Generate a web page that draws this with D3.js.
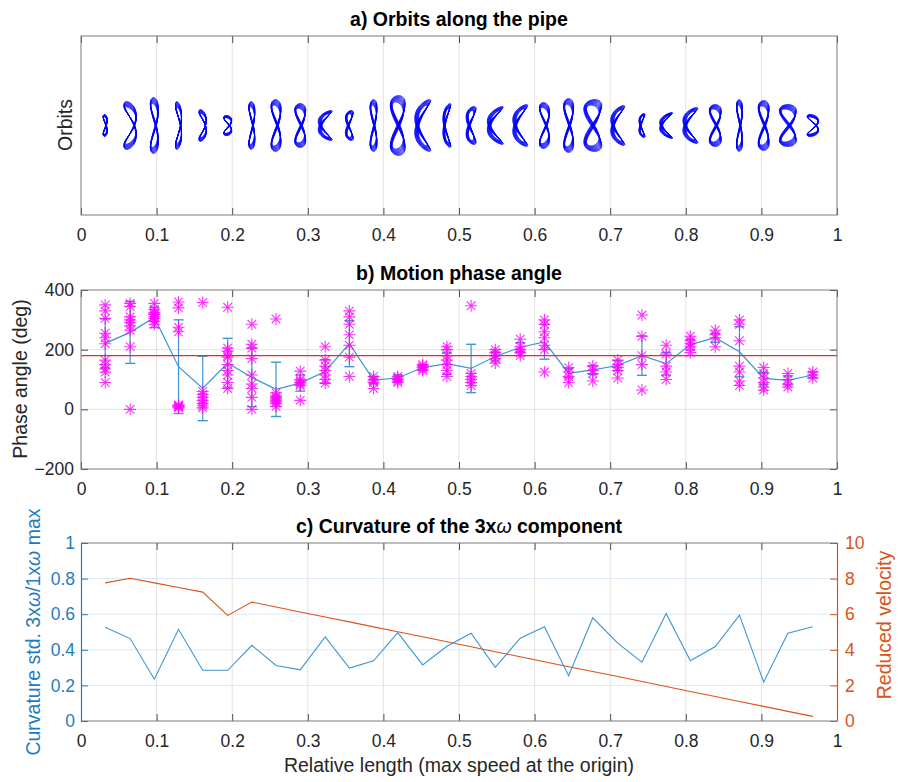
<!DOCTYPE html>
<html>
<head>
<meta charset="utf-8">
<script src="https://cdn.jsdelivr.net/npm/d3@7"></script>
<style>
  body { margin: 0; background: #fff; }
</style>
</head>
<body>
<div id="chart"></div>
<script>
// stations along the pipe (relative length)
const stations = [0.032, 0.065, 0.097, 0.129, 0.161, 0.194, 0.226, 0.258, 0.290, 0.323,
                  0.355, 0.387, 0.419, 0.452, 0.484, 0.516, 0.548, 0.581, 0.613, 0.645,
                  0.677, 0.710, 0.742, 0.774, 0.806, 0.839, 0.871, 0.903, 0.935, 0.968];
const xTicks = [0, 0.1, 0.2, 0.3, 0.4, 0.5, 0.6, 0.7, 0.8, 0.9, 1];
const xTickLabels = ['0', '0.1', '0.2', '0.3', '0.4', '0.5', '0.6', '0.7', '0.8', '0.9', '1'];

// a) orbit size per station (half height / half width, displacement units) and bend (0 = figure 8, +-1 = crescent)
const orbitHeight = [11, 24, 28, 24, 16, 10, 24, 26, 22, 15, 15, 26, 30, 26, 22, 19, 19, 21, 23, 27, 26, 20, 12, 13, 18, 21, 26, 25, 21, 11];
const orbitWidth  = [2, 6, 4, 3, 3.5, 4, 3, 5, 5.5, 7, 4, 3.5, 7.5, 8, 4, 5, 8, 7.5, 5, 5, 9, 7, 3, 6.5, 7.5, 6, 3, 5.5, 8.5, 5.5];
const orbitBend   = [0.3, 0.6, 0.2, 0.6, 0.7, 0.3, 0.2, 0.1, 0, -0.85, -0.5, 0, -0.1, -0.85, -0.8, -0.6, -0.9, -0.85, 0.2, 0, -0.2, -0.85, -0.7, -0.9, -0.85, 0, 0.1, 0, 0, 0.5];

// b) phase angle samples per station (deg), mean and std
const phaseSamples = [
  [350, 330, 305, 255, 240, 220, 165, 150, 135, 125, 90],
  [355, 345, 310, 300, 290, 280, 265, 210, 0],
  [355, 335, 325, 320, 318, 312, 305, 295, 285],
  [360, 340, 275, 260, 15, 12, 10, 8, 5],
  [358, 60, 50, 40, 30, 20, 12, 5],
  [342, 205, 195, 180, 175, 150, 130, 115, 90, 70],
  [285, 218, 205, 170, 115, 85, 70, 40, 0],
  [303, 55, 45, 40, 35, 30, 25, 20, 10],
  [128, 100, 95, 90, 85, 80, 30],
  [210, 165, 145, 130, 115, 100, 88],
  [330, 310, 285, 250, 215, 175, 110],
  [110, 100, 95, 90, 70],
  [110, 105, 100, 95, 90],
  [150, 145, 140, 135, 130],
  [210, 200, 180, 165, 150, 130, 110],
  [347, 120, 110, 100, 90, 80],
  [200, 190, 180, 170, 155],
  [235, 210, 200, 190, 180],
  [300, 285, 260, 240, 215, 200, 125],
  [140, 125, 110, 90],
  [145, 130, 120, 95],
  [165, 150, 140, 130, 105],
  [316, 245, 180, 150, 65],
  [215, 185, 145, 125, 100],
  [245, 230, 220, 210, 190],
  [265, 250, 240, 210],
  [300, 285, 230, 145, 125, 95, 80],
  [140, 120, 105, 90, 75, 65],
  [120, 100, 85, 75],
  [125, 115, 105]
];
const phaseMean = [221, 258, 308, 143, 70, 155, 107, 67, 88, 127, 220, 98, 105, 140, 153, 137, 177, 208, 226, 121,
                   132, 147, 180, 153, 217, 240, 193, 104, 97, 115];
const phaseStd  = [82, 104, 34, 157, 108, 83, 98, 91, 27, 40, 77, 12, 10, 8, 36, 81, 15, 15, 58, 15,
                   15, 17, 66, 38, 18, 15, 84, 20, 15, 10];
const phaseRef = 180;
const phaseTicks = [-200, 0, 200, 400];

// c) curvature ratio (left) and reduced velocity (right)
const curvature = [0.526, 0.463, 0.235, 0.515, 0.285, 0.285, 0.425, 0.312, 0.287, 0.472,
                   0.297, 0.338, 0.496, 0.315, 0.42, 0.493, 0.302, 0.465, 0.53, 0.254,
                   0.58, 0.437, 0.33, 0.604, 0.338, 0.418, 0.595, 0.218, 0.493, 0.53];
const reducedVelocity = [7.76, 8.02, 7.76, 7.50, 7.24, 5.93, 6.68, 6.40, 6.12, 5.84,
                         5.57, 5.29, 5.01, 4.73, 4.45, 4.17, 3.89, 3.61, 3.33, 3.05,
                         2.78, 2.50, 2.22, 1.94, 1.66, 1.38, 1.10, 0.82, 0.54, 0.26];
const curvTicks = [0, 0.2, 0.4, 0.6, 0.8, 1];
const curvTickLabels = ['0', '0.2', '0.4', '0.6', '0.8', '1'];
const velTicks = [0, 2, 4, 6, 8, 10];

// layout
const width = 898, height = 782;
const left = 81, right = 837;
const pa = {top: 36, bottom: 215}, pb = {top: 290, bottom: 469}, pc = {top: 543, bottom: 721};
const font = '"Liberation Sans", Arial, Helvetica, sans-serif';
const tickFont = 17.5, labelFont = 19.5;
const tickGray = '#4d4d4d', boxGray = '#7a7a7a', gridGray = '#e2e2e2', textGray = '#262626';
const axisBlue = '#1f7cc0', lineBlue = '#3d95d3', orange = '#D95319';

const svg = d3.select('#chart').append('svg')
  .attr('width', width)
  .attr('height', height)
  .style('font-family', font);

const x = d3.scaleLinear().domain([0, 1]).range([left, right]);

// vertical grid, top/bottom ticks, bottom labels
function xFrame(p) {
  svg.append('g').selectAll('line').data(xTicks.slice(1, -1)).enter().append('line')
    .attr('x1', d => x(d)).attr('x2', d => x(d))
    .attr('y1', p.top).attr('y2', p.bottom)
    .attr('stroke', gridGray);

  const bottom = svg.append('g')
    .attr('transform', `translate(0,${p.bottom})`)
    .call(d3.axisBottom(x).tickValues(xTicks).tickFormat((d, i) => xTickLabels[i])
      .tickSizeInner(-7).tickSizeOuter(0).tickPadding(14));
  bottom.select('.domain').remove();
  bottom.selectAll('line').attr('stroke', tickGray);
  bottom.selectAll('text').attr('font-size', tickFont).attr('font-family', font).attr('fill', textGray);

  const top = svg.append('g')
    .attr('transform', `translate(0,${p.top})`)
    .call(d3.axisTop(x).tickValues(xTicks).tickFormat('').tickSizeInner(-7).tickSizeOuter(0));
  top.select('.domain').remove();
  top.selectAll('line').attr('stroke', tickGray);
}

function box(p) {
  svg.append('rect')
    .attr('x', left).attr('y', p.top)
    .attr('width', right - left).attr('height', p.bottom - p.top)
    .attr('fill', 'none').attr('stroke', boxGray);
}

function title(p, txt) {
  return svg.append('text')
    .attr('x', (left + right) / 2).attr('y', p.top - 10)
    .attr('text-anchor', 'middle')
    .attr('font-size', labelFont).attr('font-weight', 'bold')
    .attr('fill', '#000')
    .text(txt);
}

function yLabel(xPos, yPos, color) {
  return svg.append('text')
    .attr('transform', `translate(${xPos},${yPos}) rotate(-90)`)
    .attr('text-anchor', 'middle')
    .attr('font-size', labelFont)
    .attr('fill', color);
}

// ---------- a) Orbits ----------
const yA = d3.scaleLinear().domain([-90, 90]).range([pa.bottom, pa.top]);
const unit = yA(0) - yA(1);

xFrame(pa);

const orbitLine = d3.line().x(d => d[0]).y(d => d[1]);
const orbits = svg.append('g').attr('class', 'orbits');
stations.forEach((s, i) => {
  const h = orbitHeight[i], w = orbitWidth[i], c = orbitBend[i];
  const e = Math.sqrt(1 - c * c);
  for (let k = 0; k < 8; k++) {
    const sc = 1 - 0.03 * k, ph = 0.17 * k;
    const pts = d3.range(0, 2 * Math.PI + 0.05, 0.05).map(t => {
      const dx = w * sc * (e * Math.sin(2 * t + ph) + c * Math.cos(2 * t + ph * 0.5));
      const dy = h * sc * Math.sin(t + ph * 0.3);
      return [x(s) + dx * unit, yA(dy)];
    });
    orbits.append('path')
      .attr('d', orbitLine(pts))
      .attr('fill', 'none')
      .attr('stroke', '#0000ff')
      .attr('stroke-width', 0.9);
  }
});

box(pa);
title(pa, 'a) Orbits along the pipe');
yLabel(72, 125, textGray).text('Orbits');

// ---------- b) Phase angle ----------
const yB = d3.scaleLinear().domain([-200, 400]).range([pb.bottom, pb.top]);

svg.append('g').selectAll('line').data(phaseTicks.slice(1, -1)).enter().append('line')
  .attr('x1', left).attr('x2', right)
  .attr('y1', d => yB(d)).attr('y2', d => yB(d))
  .attr('stroke', gridGray);
xFrame(pb);

const leftB = svg.append('g')
  .attr('transform', `translate(${left},0)`)
  .call(d3.axisLeft(yB).tickValues(phaseTicks).tickSizeInner(-7).tickSizeOuter(0).tickPadding(7));
leftB.select('.domain').remove();
leftB.selectAll('line').attr('stroke', tickGray);
leftB.selectAll('text').attr('font-size', tickFont).attr('font-family', font).attr('fill', textGray);

const rightB = svg.append('g')
  .attr('transform', `translate(${right},0)`)
  .call(d3.axisRight(yB).tickValues(phaseTicks).tickFormat('').tickSizeInner(-7).tickSizeOuter(0));
rightB.select('.domain').remove();
rightB.selectAll('line').attr('stroke', tickGray);

// error bars
const bars = svg.append('g').attr('class', 'errorbars');
stations.forEach((s, i) => {
  const lo = yB(phaseMean[i] - phaseStd[i]), hi = yB(phaseMean[i] + phaseStd[i]);
  bars.append('line').attr('x1', x(s)).attr('x2', x(s)).attr('y1', lo).attr('y2', hi)
    .attr('stroke', lineBlue).attr('stroke-width', 1.2);
  [lo, hi].forEach(yy => {
    bars.append('line').attr('x1', x(s) - 5).attr('x2', x(s) + 5).attr('y1', yy).attr('y2', yy)
      .attr('stroke', lineBlue).attr('stroke-width', 1.4);
  });
});
svg.append('path')
  .datum(stations)
  .attr('d', d3.line().x(d => x(d)).y((d, i) => yB(phaseMean[i])))
  .attr('fill', 'none').attr('stroke', lineBlue).attr('stroke-width', 1.2);

// asterisk samples
const star = 'M-6,0H6M0,-6V6M-4.3,-4.3L4.3,4.3M-4.3,4.3L4.3,-4.3';
const samples = svg.append('g').attr('class', 'samples');
stations.forEach((s, i) => {
  samples.selectAll(null).data(phaseSamples[i]).enter().append('path')
    .attr('d', star)
    .attr('transform', d => `translate(${x(s)},${yB(d)})`)
    .attr('fill', 'none')
    .attr('stroke', '#ff00ff')
    .attr('stroke-opacity', 0.8)
    .attr('stroke-width', 1.1);
});

// reference line
svg.append('line')
  .attr('x1', x(0)).attr('x2', x(1))
  .attr('y1', yB(phaseRef)).attr('y2', yB(phaseRef))
  .attr('stroke', '#ff2020').attr('stroke-width', 1.3);

box(pb);
title(pb, 'b) Motion phase angle');
yLabel(27, 379, textGray).text('Phase angle (deg)');

// ---------- c) Curvature ----------
const yC = d3.scaleLinear().domain([0, 1]).range([pc.bottom, pc.top]);
const yV = d3.scaleLinear().domain([0, 10]).range([pc.bottom, pc.top]);

svg.append('g').selectAll('line').data(curvTicks.slice(1, -1)).enter().append('line')
  .attr('x1', left).attr('x2', right)
  .attr('y1', d => yC(d)).attr('y2', d => yC(d))
  .attr('stroke', '#dbe9f5');
xFrame(pc);

svg.append('path')
  .datum(stations)
  .attr('d', d3.line().x(d => x(d)).y((d, i) => yV(reducedVelocity[i])))
  .attr('fill', 'none').attr('stroke', orange).attr('stroke-width', 1.1);
svg.append('path')
  .datum(stations)
  .attr('d', d3.line().x(d => x(d)).y((d, i) => yC(curvature[i])))
  .attr('fill', 'none').attr('stroke', lineBlue).attr('stroke-width', 1.1);

// box top/bottom gray, sides coloured
svg.append('line').attr('x1', left).attr('x2', right).attr('y1', pc.top).attr('y2', pc.top).attr('stroke', boxGray);
svg.append('line').attr('x1', left).attr('x2', right).attr('y1', pc.bottom).attr('y2', pc.bottom).attr('stroke', boxGray);

const leftC = svg.append('g')
  .attr('transform', `translate(${left},0)`)
  .call(d3.axisLeft(yC).tickValues(curvTicks).tickFormat((d, i) => curvTickLabels[i])
    .tickSizeInner(-7).tickSizeOuter(0).tickPadding(6));
leftC.select('.domain').attr('stroke', axisBlue).attr('stroke-width', 1.2);
leftC.selectAll('line').attr('stroke', axisBlue);
leftC.selectAll('text').attr('font-size', tickFont).attr('font-family', font).attr('fill', axisBlue);

const rightC = svg.append('g')
  .attr('transform', `translate(${right},0)`)
  .call(d3.axisRight(yV).tickValues(velTicks).tickSizeInner(-7).tickSizeOuter(0).tickPadding(8));
rightC.select('.domain').attr('stroke', orange).attr('stroke-width', 1.2);
rightC.selectAll('line').attr('stroke', orange);
rightC.selectAll('text').attr('font-size', tickFont).attr('font-family', font).attr('fill', orange);

const tc = title(pc, 'c) Curvature of the 3x');
tc.append('tspan').attr('font-style', 'italic').attr('font-weight', 'normal').text('ω');
tc.append('tspan').text(' component');

const lc = yLabel(40, 632, axisBlue).text('Curvature std. 3x');
lc.append('tspan').attr('font-style', 'italic').text('ω');
lc.append('tspan').text('/1x');
lc.append('tspan').attr('font-style', 'italic').text('ω');
lc.append('tspan').text(' max');

yLabel(891, 625, orange).text('Reduced velocity');

svg.append('text')
  .attr('x', (left + right) / 2).attr('y', 772)
  .attr('text-anchor', 'middle')
  .attr('font-size', labelFont)
  .attr('fill', textGray)
  .text('Relative length (max speed at the origin)');
</script>
</body>
</html>
